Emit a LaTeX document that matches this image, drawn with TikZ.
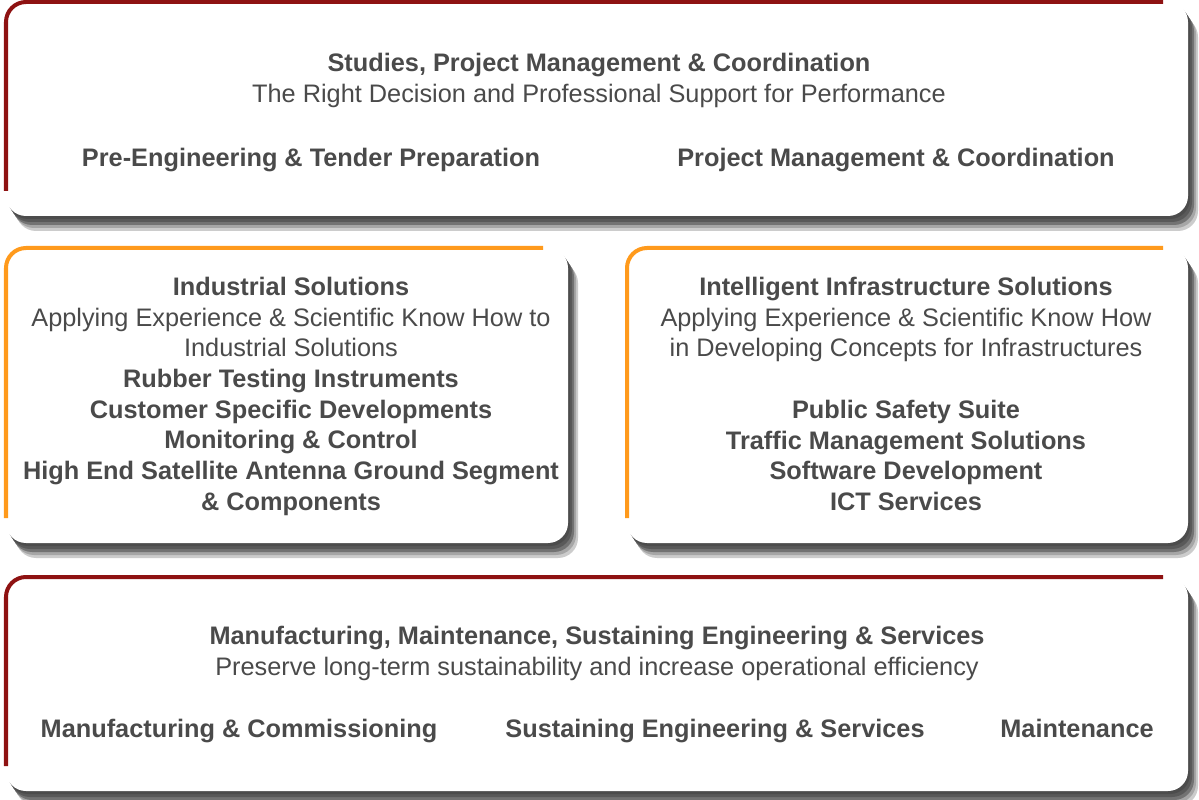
\documentclass[tikz,border=0pt]{standalone}
\usepackage{fontspec}
\setmainfont{Liberation Sans}
\definecolor{wine}{HTML}{8E1212}
\definecolor{amber}{HTML}{FF9A1C}
\definecolor{ink}{HTML}{4A4A4A}
\tikzset{
  panel/.style  = {fill=white, rounded corners=0.5cm},
  trim/.style   = {line width=0.1cm, rounded corners=0.5cm},
  blurb/.style  = {align=center, inner sep=0pt, text=ink,
                   font=\fontsize{18}{21.8}\selectfont},
  strong/.style = {blurb, font=\bfseries\fontsize{18}{21.8}\selectfont}
}

\begin{document}
\begin{tikzpicture}[x=0.025cm, y=-0.025cm]
  \useasboundingbox (0,0) rectangle (1199,800);
  \fill[white] (0,0) rectangle (1199,800);

  % panels: shadow, white face, coloured edge
  \foreach \xa/\ya/\xb/\yb/\edge in {6/2/1188/216/wine, 6/248/568/543/amber,
      627/248/1188/543/amber, 6/577/1188/791/wine} {
    \foreach \dx/\dy/\shade in {10/15/black!20, 8/12/black!35, 6/9/black!55,
        4/6/black!65, 2/3/black!70}
      \fill[\shade, rounded corners=0.5cm] (\xa+\dx,\ya+\dy) rectangle (\xb+\dx,\yb+\dy);
    \fill[panel] (\xa,\ya) rectangle (\xb,\yb);
    \draw[trim, \edge] (\xa,\yb-25) -- (\xa,\ya) -- (\xb-25,\ya);
  }

  % top
  \node[blurb, anchor=north] (studies) at (599,53)
    {\textbf{Studies, Project Management \& Coordination}\\
     The Right Decision and Professional Support for Performance};
  \node[strong, anchor=north] (preeng) at (311,148) {Pre-Engineering \& Tender Preparation};
  \node[strong, anchor=north] (pmc) at (896,148) {Project Management \& Coordination};

  % middle left
  \node[blurb, anchor=north] (industrial) at (291,277)
    {\textbf{Industrial Solutions}\\
     Applying Experience \& Scientific Know How to\\
     Industrial Solutions};
  \node[strong, anchor=north] (indlist) at (291,369)
    {Rubber Testing Instruments\\
     Customer Specific Developments\\
     Monitoring \& Control\\
     High End Satellite Antenna Ground Segment\\
     \& Components};

  % middle right
  \node[blurb, anchor=north] (infra) at (906,277)
    {\textbf{Intelligent Infrastructure Solutions}\\
     Applying Experience \& Scientific Know How\\
     in Developing Concepts for Infrastructures};
  \node[strong, anchor=north] (infralist) at (906,400)
    {Public Safety Suite\\
     Traffic Management Solutions\\
     Software Development\\
     ICT Services};

  % bottom
  \node[blurb, anchor=north] (manuf) at (597,626)
    {\textbf{Manufacturing, Maintenance, Sustaining Engineering \& Services}\\
     Preserve long-term sustainability and increase operational efficiency};
  \node[strong, anchor=north] (commission) at (239,719) {Manufacturing \& Commissioning};
  \node[strong, anchor=north] (sustain) at (715,719) {Sustaining Engineering \& Services};
  \node[strong, anchor=north] (maint) at (1077,719) {Maintenance};
\end{tikzpicture}
\end{document}
